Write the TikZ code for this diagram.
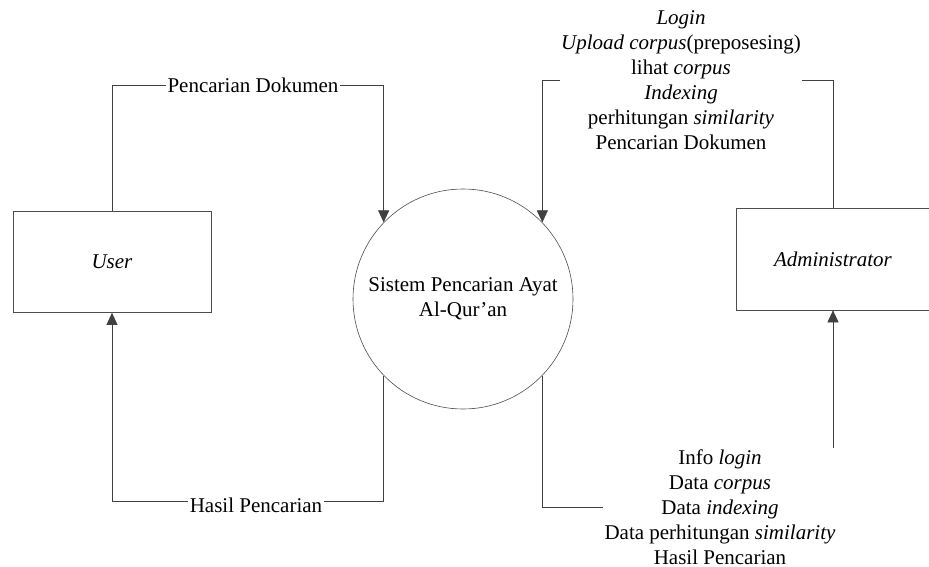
\documentclass[tikz,border=0pt]{standalone}
\usepackage{fontspec}
\setmainfont{LiberationSerif}[Extension=.ttf, UprightFont=*-Regular, ItalicFont=*-Italic, BoldFont=*-Bold, BoldItalicFont=*-BoldItalic]
\usetikzlibrary{arrows.meta}
\begin{document}
\begin{tikzpicture}[x=1pt,y=-1pt,
  every node/.style={font=\rmfamily\fontsize{21}{25}\selectfont},
  entity/.style={draw=black!70, line width=0.7pt, minimum width=198pt, minimum height=101pt, inner sep=0pt},
  process/.style={circle, draw=black!70, line width=0.6pt, minimum size=220pt, inner sep=0pt, align=center},
  flow/.style={draw=black!75, line width=0.7pt, -{Triangle[width=11pt,length=12pt]}},
  tag/.style={fill=white, inner sep=1.5pt, align=center}]
\useasboundingbox (0,0) rectangle (929,567);

% external entities and the process
\node[entity] (user) at (112,262) {\textit{User}};
\node[process] (sys) at (463,299) {Sistem Pencarian Ayat\\Al-Qur’an};
\node[entity, minimum width=194pt, minimum height=102pt] (admin) at (833,259) {\textit{Administrator}};

% heights of the horizontal runs
\coordinate (ud) at (0,85);
\coordinate (ad) at (0,80);
\coordinate (hp) at (0,501);
\coordinate (dt) at (0,507);

% data flows
\draw[flow] (user.north) |- (sys.136.7 |- ud) -- (sys.136.7);
\draw[flow] (admin.north) |- (sys.44.85 |- ad) -- (sys.44.85);
\draw[flow] (sys.-136.7) |- (user.south |- hp) -- (user.south);
\draw[flow] (sys.-44.1) |- (admin.south |- dt) -- (admin.south);

% flow labels
\node[tag] (q1) at (253,85) {Pencarian Dokumen};
\node[tag] (q2) at (681,80) {\textit{Login}\\\textit{Upload corpus}(preposesing)\\lihat \textit{corpus}\\\textit{Indexing}\\perhitungan \textit{similarity}\\Pencarian Dokumen};
\node[tag] (r1) at (256,505) {Hasil Pencarian};
\node[tag] (r2) at (720,507) {Info \textit{login}\\Data \textit{corpus}\\Data \textit{indexing}\\Data perhitungan \textit{similarity}\\Hasil Pencarian};
\end{tikzpicture}
\end{document}
